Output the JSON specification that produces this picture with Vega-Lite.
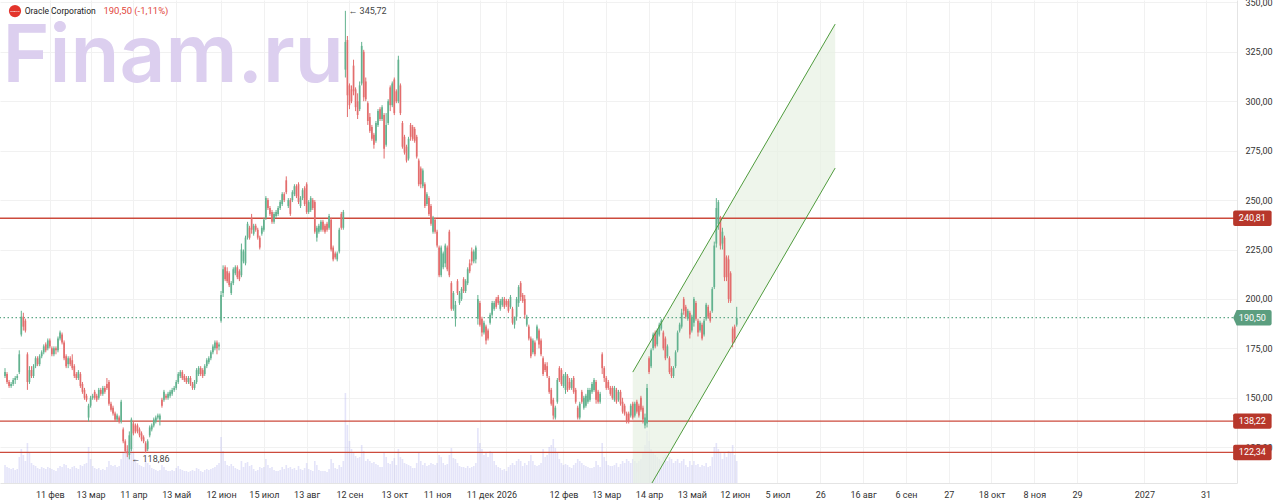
{
  "$schema": "https://vega.github.io/schema/vega-lite/v6.json",
  "description": "Oracle Corporation daily candles with levels and a rising channel",
  "width": 1237,
  "height": 483,
  "autosize": {"type": "none"},
  "padding": {"left": 0, "top": 0, "right": 43, "bottom": 20},
  "background": "#ffffff",
  "config": {
    "view": {"stroke": null},
    "font": "Roboto",
    "locale": {"number": {"decimal": ",", "thousands": " ", "grouping": [3], "currency": ["", ""]}}
  },
  "datasets": {
    "candles": [
      {"t":0,"o":161,"h":165,"l":160,"c":163,"v":18},
      {"t":1,"o":162,"h":163,"l":157,"c":158,"v":16},
      {"t":2,"o":158,"h":159,"l":155,"c":156,"v":15},
      {"t":3,"o":156,"h":158,"l":155,"c":157,"v":14},
      {"t":4,"o":157,"h":160,"l":156,"c":159,"v":15},
      {"t":5,"o":159,"h":161,"l":157,"c":160,"v":13},
      {"t":6,"o":160,"h":162,"l":159,"c":161,"v":14},
      {"t":7,"o":163,"h":174,"l":162,"c":172,"v":26},
      {"t":8,"o":182,"h":194,"l":181,"c":191,"v":34},
      {"t":9,"o":191,"h":193,"l":184,"c":186,"v":28},
      {"t":10,"o":189,"h":190,"l":183,"c":184,"v":22},
      {"t":11,"o":172,"h":173,"l":154,"c":158,"v":40},
      {"t":12,"o":158,"h":166,"l":157,"c":164,"v":30},
      {"t":13,"o":164,"h":166,"l":160,"c":161,"v":20},
      {"t":14,"o":161,"h":167,"l":160,"c":166,"v":18},
      {"t":15,"o":166,"h":171,"l":165,"c":170,"v":17},
      {"t":16,"o":170,"h":171,"l":166,"c":167,"v":15},
      {"t":17,"o":167,"h":172,"l":166,"c":171,"v":14},
      {"t":18,"o":171,"h":174,"l":170,"c":173,"v":16},
      {"t":19,"o":173,"h":177,"l":172,"c":176,"v":15},
      {"t":20,"o":177,"h":178,"l":173,"c":174,"v":14},
      {"t":21,"o":175,"h":180,"l":174,"c":179,"v":16},
      {"t":22,"o":179,"h":180,"l":175,"c":176,"v":15},
      {"t":23,"o":175,"h":176,"l":171,"c":172,"v":14},
      {"t":24,"o":172,"h":176,"l":171,"c":175,"v":13},
      {"t":25,"o":175,"h":176,"l":172,"c":174,"v":12},
      {"t":26,"o":174,"h":181,"l":173,"c":180,"v":15},
      {"t":27,"o":180,"h":184,"l":179,"c":183,"v":17},
      {"t":28,"o":182,"h":183,"l":177,"c":178,"v":16},
      {"t":29,"o":178,"h":179,"l":169,"c":170,"v":19},
      {"t":30,"o":171,"h":172,"l":165,"c":166,"v":18},
      {"t":31,"o":167,"h":171,"l":165,"c":170,"v":15},
      {"t":32,"o":170,"h":171,"l":166,"c":167,"v":14},
      {"t":33,"o":169,"h":172,"l":164,"c":165,"v":16},
      {"t":34,"o":166,"h":167,"l":160,"c":161,"v":17},
      {"t":35,"o":162,"h":163,"l":159,"c":160,"v":15},
      {"t":36,"o":160,"h":164,"l":159,"c":163,"v":14},
      {"t":37,"o":162,"h":163,"l":155,"c":156,"v":18},
      {"t":38,"o":157,"h":158,"l":152,"c":153,"v":17},
      {"t":39,"o":154,"h":155,"l":149,"c":150,"v":19},
      {"t":40,"o":151,"h":152,"l":148,"c":149,"v":20},
      {"t":41,"o":140,"h":147,"l":138,"c":146,"v":36},
      {"t":42,"o":146,"h":151,"l":145,"c":150,"v":24},
      {"t":43,"o":150,"h":152,"l":149,"c":151,"v":17},
      {"t":44,"o":153,"h":154,"l":149,"c":150,"v":15},
      {"t":45,"o":151,"h":152,"l":148,"c":149,"v":14},
      {"t":46,"o":150,"h":155,"l":149,"c":154,"v":15},
      {"t":47,"o":154,"h":155,"l":151,"c":152,"v":13},
      {"t":48,"o":152,"h":156,"l":151,"c":155,"v":14},
      {"t":49,"o":155,"h":156,"l":152,"c":153,"v":13},
      {"t":50,"o":157,"h":160,"l":154,"c":155,"v":16},
      {"t":51,"o":158,"h":159,"l":146,"c":147,"v":22},
      {"t":52,"o":147,"h":148,"l":143,"c":144,"v":18},
      {"t":53,"o":145,"h":146,"l":141,"c":142,"v":17},
      {"t":54,"o":142,"h":143,"l":138,"c":139,"v":18},
      {"t":55,"o":139,"h":142,"l":138,"c":141,"v":16},
      {"t":56,"o":140,"h":141,"l":137,"c":138,"v":17},
      {"t":57,"o":138,"h":149,"l":137,"c":148,"v":24},
      {"t":58,"o":134,"h":135,"l":127,"c":128,"v":30},
      {"t":59,"o":128,"h":129,"l":122,"c":123,"v":32},
      {"t":60,"o":123,"h":126,"l":120,"c":122,"v":34},
      {"t":61,"o":121,"h":133,"l":118.86,"c":131,"v":42},
      {"t":62,"o":124,"h":140,"l":123,"c":139,"v":45},
      {"t":63,"o":137,"h":138,"l":131,"c":132,"v":30},
      {"t":64,"o":136,"h":137,"l":132,"c":133,"v":24},
      {"t":65,"o":136,"h":137,"l":132,"c":133,"v":20},
      {"t":66,"o":134,"h":135,"l":130,"c":131,"v":18},
      {"t":67,"o":132,"h":133,"l":128,"c":129,"v":17},
      {"t":68,"o":130,"h":131,"l":127,"c":128,"v":16},
      {"t":69,"o":127,"h":128,"l":122,"c":123,"v":22},
      {"t":70,"o":124,"h":129,"l":123,"c":128,"v":20},
      {"t":71,"o":131,"h":136,"l":130,"c":135,"v":18},
      {"t":72,"o":134,"h":137,"l":133,"c":136,"v":15},
      {"t":73,"o":136,"h":140,"l":135,"c":139,"v":14},
      {"t":74,"o":138,"h":141,"l":137,"c":140,"v":13},
      {"t":75,"o":140,"h":142,"l":139,"c":141,"v":12},
      {"t":76,"o":139,"h":142,"l":136,"c":141,"v":13},
      {"t":77,"o":149,"h":150,"l":145,"c":146,"v":18},
      {"t":78,"o":149,"h":154,"l":148,"c":153,"v":16},
      {"t":79,"o":151,"h":152,"l":149,"c":150,"v":13},
      {"t":80,"o":150,"h":153,"l":149,"c":152,"v":12},
      {"t":81,"o":151,"h":154,"l":150,"c":153,"v":12},
      {"t":82,"o":152,"h":155,"l":151,"c":154,"v":13},
      {"t":83,"o":154,"h":156,"l":153,"c":155,"v":12},
      {"t":84,"o":155,"h":159,"l":154,"c":158,"v":15},
      {"t":85,"o":158,"h":163,"l":157,"c":162,"v":17},
      {"t":86,"o":161,"h":164,"l":160,"c":163,"v":14},
      {"t":87,"o":163,"h":164,"l":159,"c":160,"v":13},
      {"t":88,"o":161,"h":162,"l":158,"c":159,"v":12},
      {"t":89,"o":160,"h":161,"l":157,"c":158,"v":12},
      {"t":90,"o":158,"h":161,"l":157,"c":160,"v":11},
      {"t":91,"o":160,"h":161,"l":156,"c":157,"v":12},
      {"t":92,"o":157,"h":158,"l":154,"c":155,"v":13},
      {"t":93,"o":155,"h":159,"l":154,"c":158,"v":12},
      {"t":94,"o":158,"h":165,"l":157,"c":164,"v":15},
      {"t":95,"o":162,"h":166,"l":161,"c":165,"v":14},
      {"t":96,"o":165,"h":166,"l":161,"c":162,"v":12},
      {"t":97,"o":164,"h":165,"l":160,"c":161,"v":11},
      {"t":98,"o":162,"h":167,"l":161,"c":166,"v":13},
      {"t":99,"o":166,"h":170,"l":165,"c":169,"v":14},
      {"t":100,"o":168,"h":171,"l":167,"c":170,"v":13},
      {"t":101,"o":170,"h":174,"l":169,"c":173,"v":14},
      {"t":102,"o":173,"h":177,"l":172,"c":176,"v":15},
      {"t":103,"o":175,"h":179,"l":174,"c":178,"v":16},
      {"t":104,"o":178,"h":179,"l":172,"c":175,"v":18},
      {"t":105,"o":176,"h":178,"l":174,"c":177,"v":20},
      {"t":106,"o":189,"h":204,"l":188,"c":202,"v":46},
      {"t":107,"o":203,"h":217,"l":201,"c":215,"v":32},
      {"t":108,"o":216,"h":217,"l":209,"c":210,"v":22},
      {"t":109,"o":214,"h":216,"l":208,"c":209,"v":18},
      {"t":110,"o":213,"h":214,"l":206,"c":207,"v":17},
      {"t":111,"o":203,"h":209,"l":202,"c":208,"v":19},
      {"t":112,"o":208,"h":216,"l":207,"c":215,"v":17},
      {"t":113,"o":213,"h":217,"l":212,"c":216,"v":15},
      {"t":114,"o":216,"h":217,"l":210,"c":211,"v":14},
      {"t":115,"o":214,"h":215,"l":209,"c":210,"v":13},
      {"t":116,"o":212,"h":228,"l":211,"c":225,"v":22},
      {"t":117,"o":219,"h":225,"l":218,"c":224,"v":16},
      {"t":118,"o":218,"h":232,"l":217,"c":231,"v":20},
      {"t":119,"o":231,"h":239,"l":230,"c":238,"v":21},
      {"t":120,"o":236,"h":237,"l":230,"c":231,"v":17},
      {"t":121,"o":241,"h":243,"l":233,"c":235,"v":18},
      {"t":122,"o":233,"h":238,"l":232,"c":237,"v":14},
      {"t":123,"o":237,"h":238,"l":234,"c":235,"v":12},
      {"t":124,"o":235,"h":236,"l":230,"c":231,"v":13},
      {"t":125,"o":231,"h":232,"l":225,"c":226,"v":16},
      {"t":126,"o":233,"h":237,"l":232,"c":236,"v":15},
      {"t":127,"o":235,"h":241,"l":234,"c":240,"v":16},
      {"t":128,"o":241,"h":252,"l":240,"c":251,"v":24},
      {"t":129,"o":250,"h":251,"l":245,"c":246,"v":18},
      {"t":130,"o":246,"h":247,"l":242,"c":243,"v":15},
      {"t":131,"o":244,"h":245,"l":238,"c":239,"v":16},
      {"t":132,"o":239,"h":244,"l":238,"c":243,"v":13},
      {"t":133,"o":242,"h":245,"l":241,"c":244,"v":12},
      {"t":134,"o":243,"h":247,"l":242,"c":246,"v":12},
      {"t":135,"o":246,"h":250,"l":245,"c":249,"v":13},
      {"t":136,"o":248,"h":254,"l":247,"c":253,"v":16},
      {"t":137,"o":253,"h":254,"l":249,"c":250,"v":14},
      {"t":138,"o":260,"h":262,"l":253,"c":254,"v":18},
      {"t":139,"o":247,"h":251,"l":246,"c":250,"v":15},
      {"t":140,"o":250,"h":251,"l":242,"c":243,"v":16},
      {"t":141,"o":250,"h":255,"l":249,"c":254,"v":14},
      {"t":142,"o":253,"h":258,"l":252,"c":257,"v":15},
      {"t":143,"o":257,"h":258,"l":251,"c":252,"v":13},
      {"t":144,"o":258,"h":259,"l":248,"c":249,"v":17},
      {"t":145,"o":247,"h":252,"l":246,"c":251,"v":14},
      {"t":146,"o":251,"h":256,"l":250,"c":255,"v":13},
      {"t":147,"o":256,"h":257,"l":247,"c":248,"v":15},
      {"t":148,"o":258,"h":259,"l":243,"c":244,"v":20},
      {"t":149,"o":244,"h":250,"l":243,"c":249,"v":14},
      {"t":150,"o":245,"h":252,"l":244,"c":251,"v":13},
      {"t":151,"o":250,"h":251,"l":245,"c":246,"v":12},
      {"t":152,"o":249,"h":250,"l":233,"c":234,"v":22},
      {"t":153,"o":231,"h":237,"l":229,"c":236,"v":18},
      {"t":154,"o":234,"h":238,"l":233,"c":237,"v":13},
      {"t":155,"o":235,"h":240,"l":234,"c":239,"v":12},
      {"t":156,"o":239,"h":240,"l":234,"c":235,"v":12},
      {"t":157,"o":237,"h":238,"l":233,"c":234,"v":12},
      {"t":158,"o":238,"h":239,"l":234,"c":235,"v":11},
      {"t":159,"o":236,"h":243,"l":235,"c":242,"v":14},
      {"t":160,"o":240,"h":241,"l":224,"c":225,"v":24},
      {"t":161,"o":226,"h":227,"l":219,"c":220,"v":20},
      {"t":162,"o":223,"h":224,"l":220,"c":221,"v":15},
      {"t":163,"o":220,"h":224,"l":219,"c":223,"v":14},
      {"t":164,"o":224,"h":236,"l":223,"c":235,"v":18},
      {"t":165,"o":243,"h":244,"l":235,"c":236,"v":16},
      {"t":166,"o":236,"h":245,"l":235,"c":244,"v":22},
      {"t":167,"o":316,"h":345.72,"l":312,"c":330,"v":90},
      {"t":168,"o":331,"h":333,"l":292,"c":303,"v":58},
      {"t":169,"o":308,"h":309,"l":296,"c":298,"v":42},
      {"t":170,"o":306,"h":308,"l":299,"c":300,"v":34},
      {"t":171,"o":318,"h":321,"l":303,"c":305,"v":30},
      {"t":172,"o":306,"h":307,"l":295,"c":297,"v":27},
      {"t":173,"o":300,"h":304,"l":291,"c":293,"v":25},
      {"t":174,"o":296,"h":310,"l":295,"c":308,"v":26},
      {"t":175,"o":309,"h":330,"l":308,"c":328,"v":38},
      {"t":176,"o":325,"h":326,"l":300,"c":302,"v":32},
      {"t":177,"o":310,"h":312,"l":300,"c":301,"v":22},
      {"t":178,"o":299,"h":300,"l":288,"c":290,"v":24},
      {"t":179,"o":292,"h":294,"l":284,"c":285,"v":22},
      {"t":180,"o":287,"h":288,"l":280,"c":281,"v":20},
      {"t":181,"o":283,"h":284,"l":276,"c":278,"v":21},
      {"t":182,"o":280,"h":290,"l":279,"c":289,"v":19},
      {"t":183,"o":288,"h":296,"l":287,"c":295,"v":18},
      {"t":184,"o":296,"h":297,"l":290,"c":291,"v":16},
      {"t":185,"o":291,"h":298,"l":290,"c":297,"v":16},
      {"t":186,"o":293,"h":294,"l":271,"c":276,"v":30},
      {"t":187,"o":278,"h":294,"l":277,"c":288,"v":26},
      {"t":188,"o":289,"h":301,"l":288,"c":300,"v":20},
      {"t":189,"o":307,"h":308,"l":295,"c":298,"v":19},
      {"t":190,"o":298,"h":310,"l":297,"c":309,"v":22},
      {"t":191,"o":311,"h":312,"l":293,"c":294,"v":25},
      {"t":192,"o":305,"h":306,"l":299,"c":300,"v":18},
      {"t":193,"o":300,"h":323,"l":299,"c":321,"v":34},
      {"t":194,"o":308,"h":309,"l":293,"c":294,"v":26},
      {"t":195,"o":289,"h":290,"l":276,"c":277,"v":24},
      {"t":196,"o":282,"h":283,"l":273,"c":274,"v":20},
      {"t":197,"o":277,"h":278,"l":269,"c":270,"v":19},
      {"t":198,"o":271,"h":282,"l":270,"c":281,"v":18},
      {"t":199,"o":288,"h":289,"l":280,"c":282,"v":17},
      {"t":200,"o":287,"h":288,"l":280,"c":281,"v":15},
      {"t":201,"o":286,"h":287,"l":279,"c":280,"v":15},
      {"t":202,"o":282,"h":283,"l":271,"c":272,"v":20},
      {"t":203,"o":270,"h":271,"l":257,"c":258,"v":30},
      {"t":204,"o":266,"h":267,"l":256,"c":258,"v":22},
      {"t":205,"o":257,"h":266,"l":256,"c":265,"v":18},
      {"t":206,"o":258,"h":259,"l":246,"c":247,"v":20},
      {"t":207,"o":248,"h":254,"l":247,"c":253,"v":17},
      {"t":208,"o":251,"h":252,"l":242,"c":243,"v":18},
      {"t":209,"o":247,"h":248,"l":237,"c":238,"v":20},
      {"t":210,"o":234,"h":242,"l":233,"c":241,"v":19},
      {"t":211,"o":240,"h":241,"l":233,"c":234,"v":18},
      {"t":212,"o":234,"h":235,"l":226,"c":227,"v":20},
      {"t":213,"o":226,"h":227,"l":211,"c":212,"v":28},
      {"t":214,"o":212,"h":227,"l":211,"c":226,"v":26},
      {"t":215,"o":216,"h":224,"l":215,"c":223,"v":20},
      {"t":216,"o":218,"h":228,"l":216,"c":227,"v":18},
      {"t":217,"o":226,"h":227,"l":214,"c":215,"v":19},
      {"t":218,"o":234,"h":235,"l":211,"c":212,"v":28},
      {"t":219,"o":208,"h":209,"l":194,"c":195,"v":35},
      {"t":220,"o":195,"h":204,"l":194,"c":203,"v":25},
      {"t":221,"o":190,"h":199,"l":186,"c":197,"v":24},
      {"t":222,"o":209,"h":210,"l":202,"c":203,"v":20},
      {"t":223,"o":198,"h":204,"l":197,"c":203,"v":17},
      {"t":224,"o":200,"h":206,"l":199,"c":205,"v":16},
      {"t":225,"o":210,"h":211,"l":203,"c":204,"v":16},
      {"t":226,"o":204,"h":210,"l":203,"c":209,"v":15},
      {"t":227,"o":208,"h":216,"l":207,"c":215,"v":17},
      {"t":228,"o":218,"h":220,"l":213,"c":214,"v":15},
      {"t":229,"o":224,"h":226,"l":217,"c":219,"v":16},
      {"t":230,"o":219,"h":225,"l":218,"c":224,"v":17},
      {"t":231,"o":220,"h":227,"l":218,"c":226,"v":20},
      {"t":232,"o":190,"h":202,"l":187,"c":200,"v":55},
      {"t":233,"o":198,"h":199,"l":186,"c":187,"v":40},
      {"t":234,"o":190,"h":191,"l":181,"c":183,"v":34},
      {"t":235,"o":183,"h":189,"l":182,"c":188,"v":28},
      {"t":236,"o":186,"h":187,"l":177,"c":179,"v":30},
      {"t":237,"o":184,"h":185,"l":179,"c":180,"v":26},
      {"t":238,"o":188,"h":193,"l":187,"c":192,"v":32},
      {"t":239,"o":192,"h":199,"l":191,"c":198,"v":30},
      {"t":240,"o":195,"h":199,"l":194,"c":198,"v":22},
      {"t":241,"o":200,"h":201,"l":195,"c":196,"v":18},
      {"t":242,"o":201,"h":202,"l":197,"c":198,"v":16},
      {"t":243,"o":195,"h":200,"l":194,"c":199,"v":15},
      {"t":244,"o":197,"h":201,"l":196,"c":200,"v":13},
      {"t":245,"o":200,"h":201,"l":195,"c":196,"v":14},
      {"t":246,"o":199,"h":200,"l":196,"c":197,"v":12},
      {"t":247,"o":199,"h":200,"l":193,"c":194,"v":16},
      {"t":248,"o":196,"h":202,"l":195,"c":201,"v":18},
      {"t":249,"o":195,"h":196,"l":187,"c":188,"v":20},
      {"t":250,"o":187,"h":191,"l":185,"c":191,"v":18},
      {"t":251,"o":191,"h":201,"l":189,"c":200,"v":22},
      {"t":252,"o":198,"h":207,"l":196,"c":206,"v":24},
      {"t":253,"o":208,"h":209,"l":199,"c":201,"v":22},
      {"t":254,"o":202,"h":203,"l":198,"c":199,"v":17},
      {"t":255,"o":200,"h":202,"l":190,"c":192,"v":20},
      {"t":256,"o":187,"h":192,"l":186,"c":191,"v":18},
      {"t":257,"o":186,"h":187,"l":179,"c":180,"v":22},
      {"t":258,"o":180,"h":181,"l":170,"c":171,"v":28},
      {"t":259,"o":173,"h":180,"l":172,"c":179,"v":22},
      {"t":260,"o":178,"h":179,"l":171,"c":172,"v":18},
      {"t":261,"o":180,"h":187,"l":179,"c":186,"v":17},
      {"t":262,"o":184,"h":185,"l":175,"c":177,"v":18},
      {"t":263,"o":179,"h":180,"l":171,"c":172,"v":20},
      {"t":264,"o":170,"h":171,"l":161,"c":162,"v":34},
      {"t":265,"o":167,"h":168,"l":163,"c":164,"v":26},
      {"t":266,"o":166,"h":168,"l":160,"c":161,"v":28},
      {"t":267,"o":160,"h":161,"l":152,"c":153,"v":36},
      {"t":268,"o":154,"h":155,"l":146,"c":147,"v":38},
      {"t":269,"o":149,"h":150,"l":139,"c":141,"v":44},
      {"t":270,"o":140,"h":146,"l":139,"c":145,"v":35},
      {"t":271,"o":148,"h":160,"l":147,"c":159,"v":30},
      {"t":272,"o":165,"h":166,"l":158,"c":159,"v":24},
      {"t":273,"o":164,"h":165,"l":156,"c":157,"v":20},
      {"t":274,"o":156,"h":162,"l":155,"c":161,"v":18},
      {"t":275,"o":154,"h":163,"l":152,"c":162,"v":19},
      {"t":276,"o":161,"h":162,"l":153,"c":154,"v":18},
      {"t":277,"o":158,"h":160,"l":154,"c":155,"v":16},
      {"t":278,"o":155,"h":160,"l":154,"c":159,"v":15},
      {"t":279,"o":160,"h":161,"l":152,"c":153,"v":18},
      {"t":280,"o":154,"h":155,"l":147,"c":148,"v":20},
      {"t":281,"o":145,"h":146,"l":139,"c":140,"v":24},
      {"t":282,"o":140,"h":148,"l":139,"c":147,"v":22},
      {"t":283,"o":153,"h":154,"l":147,"c":148,"v":20},
      {"t":284,"o":145,"h":151,"l":144,"c":150,"v":18},
      {"t":285,"o":146,"h":152,"l":145,"c":151,"v":17},
      {"t":286,"o":148,"h":155,"l":147,"c":154,"v":16},
      {"t":287,"o":149,"h":155,"l":148,"c":154,"v":15},
      {"t":288,"o":153,"h":158,"l":152,"c":157,"v":15},
      {"t":289,"o":154,"h":160,"l":153,"c":159,"v":16},
      {"t":290,"o":158,"h":159,"l":147,"c":149,"v":22},
      {"t":291,"o":153,"h":154,"l":147,"c":148,"v":18},
      {"t":292,"o":148,"h":153,"l":147,"c":152,"v":16},
      {"t":293,"o":172,"h":173,"l":162,"c":165,"v":40},
      {"t":294,"o":165,"h":166,"l":158,"c":160,"v":26},
      {"t":295,"o":160,"h":161,"l":154,"c":155,"v":22},
      {"t":296,"o":158,"h":159,"l":154,"c":155,"v":18},
      {"t":297,"o":155,"h":156,"l":151,"c":152,"v":17},
      {"t":298,"o":155,"h":156,"l":149,"c":150,"v":17},
      {"t":299,"o":149,"h":156,"l":148,"c":155,"v":18},
      {"t":300,"o":154,"h":155,"l":147,"c":148,"v":20},
      {"t":301,"o":149,"h":154,"l":148,"c":153,"v":16},
      {"t":302,"o":153,"h":154,"l":146,"c":147,"v":19},
      {"t":303,"o":148,"h":150,"l":142,"c":143,"v":22},
      {"t":304,"o":146,"h":147,"l":141,"c":142,"v":20},
      {"t":305,"o":142,"h":143,"l":137,"c":138,"v":24},
      {"t":306,"o":142,"h":143,"l":137,"c":138,"v":22},
      {"t":307,"o":141,"h":147,"l":140,"c":146,"v":20},
      {"t":308,"o":147,"h":148,"l":139,"c":140,"v":24},
      {"t":309,"o":141,"h":148,"l":140,"c":147,"v":22},
      {"t":310,"o":148,"h":149,"l":142,"c":143,"v":20},
      {"t":311,"o":146,"h":147,"l":140,"c":141,"v":22},
      {"t":312,"o":150,"h":151,"l":143,"c":144,"v":24},
      {"t":313,"o":145,"h":146,"l":137,"c":139,"v":30},
      {"t":314,"o":136,"h":142,"l":134.5,"c":140,"v":38},
      {"t":315,"o":137,"h":157,"l":135,"c":155,"v":52},
      {"t":316,"o":170,"h":171,"l":162,"c":163,"v":42},
      {"t":317,"o":166,"h":175,"l":165,"c":174,"v":34},
      {"t":318,"o":175,"h":183,"l":174,"c":182,"v":30},
      {"t":319,"o":183,"h":184,"l":175,"c":176,"v":28},
      {"t":320,"o":177,"h":185,"l":176,"c":184,"v":26},
      {"t":321,"o":182,"h":188,"l":181,"c":187,"v":24},
      {"t":322,"o":185,"h":190,"l":184,"c":189,"v":22},
      {"t":323,"o":183,"h":184,"l":174,"c":175,"v":26},
      {"t":324,"o":180,"h":181,"l":169,"c":170,"v":28},
      {"t":325,"o":171,"h":177,"l":170,"c":176,"v":22},
      {"t":326,"o":170,"h":171,"l":162,"c":163,"v":26},
      {"t":327,"o":165,"h":166,"l":160,"c":161,"v":24},
      {"t":328,"o":161,"h":166,"l":160,"c":165,"v":20},
      {"t":329,"o":166,"h":174,"l":165,"c":173,"v":22},
      {"t":330,"o":174,"h":184,"l":173,"c":183,"v":24},
      {"t":331,"o":184,"h":188,"l":183,"c":187,"v":20},
      {"t":332,"o":186,"h":195,"l":185,"c":193,"v":22},
      {"t":333,"o":200,"h":201,"l":192,"c":194,"v":24},
      {"t":334,"o":196,"h":197,"l":190,"c":191,"v":18},
      {"t":335,"o":190,"h":195,"l":189,"c":194,"v":16},
      {"t":336,"o":193,"h":194,"l":180,"c":182,"v":22},
      {"t":337,"o":184,"h":192,"l":183,"c":191,"v":18},
      {"t":338,"o":188,"h":201,"l":186,"c":200,"v":22},
      {"t":339,"o":198,"h":199,"l":189,"c":190,"v":18},
      {"t":340,"o":189,"h":190,"l":181,"c":183,"v":19},
      {"t":341,"o":184,"h":189,"l":183,"c":188,"v":16},
      {"t":342,"o":187,"h":188,"l":179,"c":180,"v":18},
      {"t":343,"o":182,"h":190,"l":181,"c":189,"v":17},
      {"t":344,"o":190,"h":198,"l":189,"c":197,"v":20},
      {"t":345,"o":196,"h":197,"l":190,"c":191,"v":16},
      {"t":346,"o":193,"h":194,"l":188,"c":189,"v":17},
      {"t":347,"o":194,"h":206,"l":193,"c":205,"v":26},
      {"t":348,"o":206,"h":229,"l":205,"c":227,"v":36},
      {"t":349,"o":228,"h":251,"l":226,"c":246,"v":40},
      {"t":350,"o":238,"h":250,"l":235,"c":249,"v":34},
      {"t":351,"o":241,"h":242,"l":225,"c":227,"v":30},
      {"t":352,"o":228,"h":236,"l":225,"c":234,"v":24},
      {"t":353,"o":231,"h":232,"l":209,"c":211,"v":30},
      {"t":354,"o":221,"h":222,"l":209,"c":211,"v":26},
      {"t":355,"o":220,"h":222,"l":198,"c":200,"v":32},
      {"t":356,"o":213,"h":214,"l":198,"c":199,"v":30},
      {"t":357,"o":185,"h":186,"l":175.5,"c":178,"v":38},
      {"t":358,"o":186,"h":187,"l":178,"c":180,"v":28},
      {"t":359,"o":187,"h":196,"l":186,"c":190.5,"v":22}
    ],
    "levels": [{"p": 240.81}, {"p": 138.22}, {"p": 122.34}],
    "last": [{"p": 190.5}],
    "channel": [
      {"t": 308, "lo": 90.2, "hi": 163.0},
      {"t": 407.3, "lo": 266.2, "hi": 339.0}
    ],
    "one": [{}]
  },
  "resolve": {"scale": {"y": "independent"}},
  "layer": [
    {
      "data": {"name": "candles"},
      "mark": {"type": "bar", "size": 1.6, "color": "#b9b9ef", "opacity": 0.38},
      "encoding": {
        "x": {"field": "t", "type": "quantitative", "scale": {"domain": [0, 602], "nice": false, "zero": false}},
        "y": {"field": "v", "type": "quantitative", "scale": {"domain": [0, 483], "nice": false}, "axis": null}
      }
    },
    {
      "layer": [
        {
          "data": {"name": "one"},
          "mark": {"type": "text", "text": "Finam.ru", "font": "Inter", "fontSize": 80, "fontWeight": 600, "color": "#dccfef", "align": "left", "baseline": "alphabetic"},
          "encoding": {
            "x": {"datum": -1.2, "type": "quantitative", "scale": {"domain": [0, 602], "nice": false, "zero": false}},
            "y": {"datum": 309.7, "type": "quantitative", "scale": {"domain": [106.9, 351.2], "nice": false, "zero": false}}
          }
        },
        {
          "data": {"name": "channel"},
          "mark": {"type": "area", "color": "#e7f1e3", "opacity": 0.7, "clip": true},
          "encoding": {
            "x": {"field": "t", "type": "quantitative", "scale": {"domain": [0, 602], "nice": false, "zero": false}},
            "y": {"field": "lo", "type": "quantitative", "scale": {"domain": [106.9, 351.2], "nice": false, "zero": false}},
            "y2": {"field": "hi"}
          }
        },
        {
          "data": {"name": "levels"},
          "mark": {"type": "rule", "color": "#cc4a3c", "strokeWidth": 1.3},
          "encoding": {
            "y": {"field": "p", "type": "quantitative", "scale": {"domain": [106.9, 351.2], "nice": false, "zero": false}}
          }
        },
        {
          "data": {"name": "last"},
          "mark": {"type": "rule", "color": "#5fa887", "strokeWidth": 1.2, "strokeDash": [1.5, 2.5]},
          "encoding": {
            "y": {"field": "p", "type": "quantitative", "scale": {"domain": [106.9, 351.2], "nice": false, "zero": false}}
          }
        },
        {
          "data": {"name": "candles"},
          "mark": {"type": "rule", "strokeWidth": 1},
          "encoding": {
            "x": {
              "field": "t", "type": "quantitative",
              "scale": {"domain": [0, 602], "nice": false, "zero": false},
              "axis": {
                "values": [22, 42, 63, 84, 106, 127, 148, 169, 191, 212, 233, 246, 274, 295, 316, 337, 358, 379, 400, 421, 442, 463, 484, 505, 526, 559, 589],
                "labelExpr": "['11 фев','13 мар','11 апр','13 май','12 июн','15 июл','13 авг','12 сен','13 окт','11 ноя','11 дек','2026','12 фев','13 мар','14 апр','13 май','12 июн','5 июл','26','16 авг','6 сен','27','18 окт','8 ноя','29','2027','31'][indexof([22, 42, 63, 84, 106, 127, 148, 169, 191, 212, 233, 246, 274, 295, 316, 337, 358, 379, 400, 421, 442, 463, 484, 505, 526, 559, 589], datum.value)]",
                "title": null, "ticks": false, "labelPadding": 7, "labelFontSize": 9, "labelColor": "#333333",
                "grid": true, "gridColor": "#f1f1f1", "domain": true, "domainColor": "#e4e4e4",
                "labelFlush": false, "labelOverlap": false
              }
            },
            "y": {
              "field": "l", "type": "quantitative",
              "scale": {"domain": [106.9, 351.2], "nice": false, "zero": false},
              "axis": {
                "orient": "right", "values": [125, 150, 175, 200, 225, 250, 275, 300, 325, 350],
                "labelExpr": "replace(format(datum.value, '.2f'), '.', ',')",
                "title": null, "ticks": false, "labelPadding": 8, "labelAlign": "left", "labelFontSize": 9, "labelColor": "#333333",
                "grid": true, "gridColor": "#f1f1f1", "domain": true, "domainColor": "#e4e4e4",
                "labelFlush": false, "labelOverlap": false
              }
            },
            "y2": {"field": "h"},
            "color": {"condition": {"test": "datum.c >= datum.o", "value": "#62b28f"}, "value": "#e36d6d"}
          }
        },
        {
          "data": {"name": "candles"},
          "mark": {"type": "bar", "size": 1.7},
          "encoding": {
            "x": {"field": "t", "type": "quantitative", "scale": {"domain": [0, 602], "nice": false, "zero": false}},
            "y": {"field": "o", "type": "quantitative", "scale": {"domain": [106.9, 351.2], "nice": false, "zero": false}},
            "y2": {"field": "c"},
            "color": {"condition": {"test": "datum.c >= datum.o", "value": "#62b28f"}, "value": "#e36d6d"}
          }
        },
        {
          "data": {"name": "channel"},
          "mark": {"type": "line", "color": "#4f9b3d", "strokeWidth": 1, "clip": true},
          "encoding": {
            "x": {"field": "t", "type": "quantitative", "scale": {"domain": [0, 602], "nice": false, "zero": false}},
            "y": {"field": "hi", "type": "quantitative", "scale": {"domain": [106.9, 351.2], "nice": false, "zero": false}}
          }
        },
        {
          "data": {"name": "channel"},
          "mark": {"type": "line", "color": "#4f9b3d", "strokeWidth": 1, "clip": true},
          "encoding": {
            "x": {"field": "t", "type": "quantitative", "scale": {"domain": [0, 602], "nice": false, "zero": false}},
            "y": {"field": "lo", "type": "quantitative", "scale": {"domain": [106.9, 351.2], "nice": false, "zero": false}}
          }
        },
        {
          "data": {"name": "one"},
          "mark": {"type": "text", "text": "← 345,72", "fontSize": 9, "color": "#444444", "align": "left", "baseline": "middle", "dx": 3},
          "encoding": {
            "x": {"datum": 167, "type": "quantitative", "scale": {"domain": [0, 602], "nice": false, "zero": false}},
            "y": {"datum": 345.72, "type": "quantitative", "scale": {"domain": [106.9, 351.2], "nice": false, "zero": false}}
          }
        },
        {
          "data": {"name": "one"},
          "mark": {"type": "text", "text": "← 118,86", "fontSize": 9, "color": "#444444", "align": "left", "baseline": "middle", "dx": 2},
          "encoding": {
            "x": {"datum": 61, "type": "quantitative", "scale": {"domain": [0, 602], "nice": false, "zero": false}},
            "y": {"datum": 118.86, "type": "quantitative", "scale": {"domain": [106.9, 351.2], "nice": false, "zero": false}}
          }
        },
        {
          "data": {"name": "one"},
          "mark": {"type": "point", "shape": "circle", "filled": true, "color": "#e3342b", "opacity": 1, "size": 150},
          "encoding": {
            "x": {"datum": 4.9, "type": "quantitative", "scale": {"domain": [0, 602], "nice": false, "zero": false}},
            "y": {"datum": 345.6, "type": "quantitative", "scale": {"domain": [106.9, 351.2], "nice": false, "zero": false}}
          }
        },
        {
          "data": {"name": "one"},
          "mark": {"type": "text", "text": "ORACLE", "fontSize": 2.5, "color": "#ffffff", "align": "center", "baseline": "middle"},
          "encoding": {
            "x": {"datum": 4.9, "type": "quantitative", "scale": {"domain": [0, 602], "nice": false, "zero": false}},
            "y": {"datum": 345.6, "type": "quantitative", "scale": {"domain": [106.9, 351.2], "nice": false, "zero": false}}
          }
        },
        {
          "data": {"name": "one"},
          "mark": {"type": "text", "text": "Oracle Corporation", "fontSize": 8.5, "color": "#222222", "align": "left", "baseline": "middle"},
          "encoding": {
            "x": {"datum": 9.7, "type": "quantitative", "scale": {"domain": [0, 602], "nice": false, "zero": false}},
            "y": {"datum": 345.6, "type": "quantitative", "scale": {"domain": [106.9, 351.2], "nice": false, "zero": false}}
          }
        },
        {
          "data": {"name": "one"},
          "mark": {"type": "text", "text": "190,50 (-1,11%)", "fontSize": 9.5, "color": "#e2463c", "align": "left", "baseline": "middle"},
          "encoding": {
            "x": {"datum": 48.3, "type": "quantitative", "scale": {"domain": [0, 602], "nice": false, "zero": false}},
            "y": {"datum": 345.6, "type": "quantitative", "scale": {"domain": [106.9, 351.2], "nice": false, "zero": false}}
          }
        },
        {
          "data": {"name": "levels"},
          "mark": {"type": "point", "shape": "M-0.9,-0.4H0.9Q1,-0.4 1,-0.3V0.3Q1,0.4 0.9,0.4H-0.9Q-1,0.4 -1,0.3V-0.3Q-1,-0.4 -0.9,-0.4Z", "filled": true, "color": "#b7372b", "opacity": 1, "size": 1480},
          "encoding": {
            "x": {"datum": 612, "type": "quantitative", "scale": {"domain": [0, 602], "nice": false, "zero": false}},
            "y": {"field": "p", "type": "quantitative", "scale": {"domain": [106.9, 351.2], "nice": false, "zero": false}}
          }
        },
        {
          "data": {"name": "last"},
          "mark": {"type": "point", "shape": "M-0.82,-0.4H0.9Q1,-0.4 1,-0.3V0.3Q1,0.4 0.9,0.4H-0.82L-1,0Z", "filled": true, "color": "#5b9e7f", "opacity": 1, "size": 1480},
          "encoding": {
            "x": {"datum": 612, "type": "quantitative", "scale": {"domain": [0, 602], "nice": false, "zero": false}},
            "y": {"field": "p", "type": "quantitative", "scale": {"domain": [106.9, 351.2], "nice": false, "zero": false}}
          }
        },
        {
          "data": {"name": "levels"},
          "mark": {"type": "text", "fontSize": 9, "color": "#ffffff", "align": "center", "baseline": "middle"},
          "encoding": {
            "x": {"datum": 612, "type": "quantitative", "scale": {"domain": [0, 602], "nice": false, "zero": false}},
            "y": {"field": "p", "type": "quantitative", "scale": {"domain": [106.9, 351.2], "nice": false, "zero": false}},
            "text": {"field": "p", "type": "quantitative", "format": ".2f"}
          }
        },
        {
          "data": {"name": "last"},
          "mark": {"type": "text", "fontSize": 9, "color": "#ffffff", "align": "center", "baseline": "middle"},
          "encoding": {
            "x": {"datum": 612, "type": "quantitative", "scale": {"domain": [0, 602], "nice": false, "zero": false}},
            "y": {"field": "p", "type": "quantitative", "scale": {"domain": [106.9, 351.2], "nice": false, "zero": false}},
            "text": {"field": "p", "type": "quantitative", "format": ".2f"}
          }
        }
      ]
    }
  ]
}
